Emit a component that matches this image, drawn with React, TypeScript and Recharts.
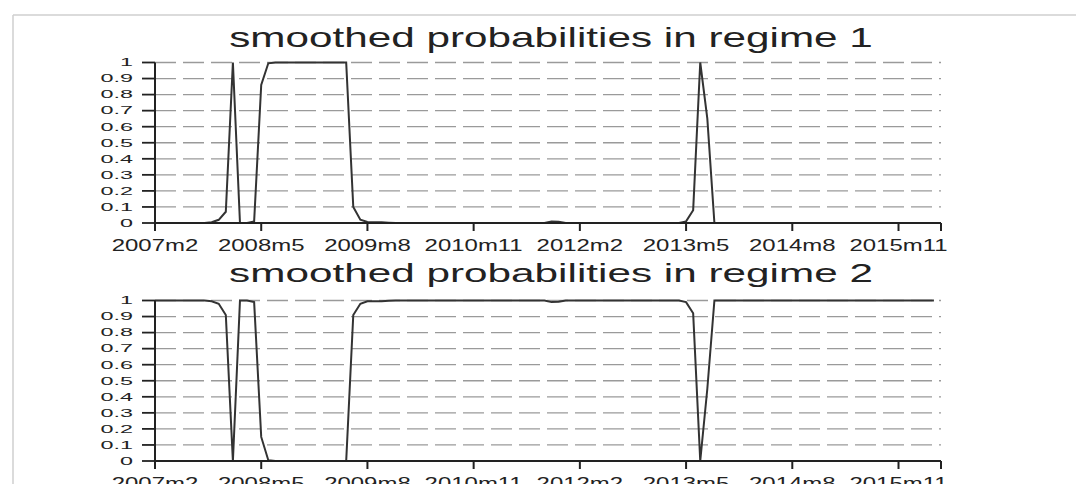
import { CartesianGrid, Line, LineChart, XAxis, YAxis } from "recharts";

// monthly index, 0 = 2007m2
const xTicks = [0, 15, 30, 45, 60, 75, 90, 105, 111];
const xTickLabels = ["2007m2", "2008m5", "2009m8", "2010m11", "2012m2", "2013m5", "2014m8", "2015m11", ""];
const yTicks = [0, 0.1, 0.2, 0.3, 0.4, 0.5, 0.6, 0.7, 0.8, 0.9, 1];
const yTickLabels = ["0", "0.1", "0.2", "0.3", "0.4", "0.5", "0.6", "0.7", "0.8", "0.9", "1"];

const regime1 = [
    0, 0, 0, 0, 0, 0, 0, 0, 0.005, 0.02, 0.07, 1, 0, 0, 0.01,
    0.86, 0.995, 1, 1, 1, 1, 1, 1, 1, 1, 1, 1, 1, 0.1, 0.02,
    0.006, 0.005, 0.004, 0.002, 0, 0, 0, 0, 0, 0, 0, 0, 0, 0, 0,
    0, 0, 0, 0, 0, 0, 0, 0, 0, 0, 0, 0.01, 0.008, 0, 0,
    0, 0, 0, 0, 0, 0, 0, 0, 0, 0, 0, 0, 0, 0, 0,
    0.01, 0.08, 1, 0.65, 0, 0, 0, 0, 0, 0, 0, 0, 0, 0, 0,
    0, 0, 0, 0, 0, 0, 0, 0, 0, 0, 0, 0, 0, 0, 0,
    0, 0, 0, 0, 0, 0,
];

const regime2 = [
    1, 1, 1, 1, 1, 1, 1, 1, 0.995, 0.98, 0.91, 0, 1, 1, 0.99,
    0.15, 0.005, 0, 0, 0, 0, 0, 0, 0, 0, 0, 0, 0, 0.91, 0.98,
    0.995, 0.995, 0.996, 0.998, 1, 1, 1, 1, 1, 1, 1, 1, 1, 1, 1,
    1, 1, 1, 1, 1, 1, 1, 1, 1, 1, 1, 0.99, 0.992, 1, 1,
    1, 1, 1, 1, 1, 1, 1, 1, 1, 1, 1, 1, 1, 1, 1,
    0.99, 0.92, 0, 0.45, 1, 1, 1, 1, 1, 1, 1, 1, 1, 1, 1,
    1, 1, 1, 1, 1, 1, 1, 1, 1, 1, 1, 1, 1, 1, 1,
    1, 1, 1, 1, 1, 1,
];

const FONT = "'Liberation Sans', Arial, sans-serif";
const INK = "#222";

const XTick = (props: any) => {
    const { x, y, payload } = props;
    const label = xTickLabels[xTicks.indexOf(payload.value)] ?? "";
    return (
        <g transform={`translate(${x},${y + 19.5}) scale(1.47,1)`}>
            <text x={0} y={0} textAnchor="middle" fontSize={16.3} fontFamily={FONT} fill={INK}>
                {label}
            </text>
        </g>
    );
};

const YTick = (props: any) => {
    const { x, y, payload } = props;
    const idx = yTicks.findIndex((t) => Math.abs(t - payload.value) < 1e-6);
    return (
        <g transform={`translate(${x - 9},${y + 3.8}) scale(1.46,0.65)`}>
            <text x={0} y={0} textAnchor="end" fontSize={16} fontFamily={FONT} fill={INK}>
                {yTickLabels[idx]}
            </text>
        </g>
    );
};

const Panel = ({ values, top }: { values: number[]; top: number }) => {
    const data = values.map((p, m) => ({ m, p }));
    return (
        <div style={{ position: "absolute", left: 0, top: top, width: 1076, height: 262 }}>
            <LineChart width={1076} height={262} data={data} margin={{ top: 62.5, right: 135, left: 75, bottom: 9 }}>
                <CartesianGrid vertical={false} stroke="#9a9a9a" strokeWidth={1.3} strokeDasharray="21 7" />
                <XAxis
                    dataKey="m"
                    type="number"
                    domain={[0, 111]}
                    ticks={xTicks}
                    interval={0}
                    height={30}
                    tickSize={8}
                    tickMargin={0}
                    axisLine={{ stroke: INK, strokeWidth: 2 }}
                    tickLine={{ stroke: INK, strokeWidth: 2 }}
                    tick={<XTick />}
                />
                <YAxis
                    type="number"
                    domain={[0, 1]}
                    ticks={yTicks}
                    interval={0}
                    width={80}
                    tickSize={13}
                    tickMargin={0}
                    axisLine={{ stroke: INK, strokeWidth: 2 }}
                    tickLine={{ stroke: INK, strokeWidth: 1.8 }}
                    tick={<YTick />}
                />
                <Line
                    type="linear"
                    dataKey="p"
                    stroke="#333"
                    strokeWidth={2}
                    dot={false}
                    isAnimationActive={false}
                />
            </LineChart>
        </div>
    );
};

export default function App() {
    return (
        <div style={{ position: "fixed", left: 0, top: 0, width: 1076, height: 484, overflow: "hidden", background: "#fff" }}>
            <Panel values={regime1} top={0} />
            <Panel values={regime2} top={237.5} />
            <svg width={1076} height={484} style={{ position: "absolute", left: 0, top: 0, pointerEvents: "none" }}>
                <line x1={13} y1={15} x2={1076} y2={15} stroke="#cfcfcf" strokeWidth={1.5} />
                <line x1={13} y1={15} x2={13} y2={484} stroke="#cfcfcf" strokeWidth={1.5} />
                <g transform="translate(551,46.7) scale(1.51,1)">
                    <text x={0} y={0} textAnchor="middle" fontSize={28} fontFamily={FONT} fill={INK}>
                        smoothed probabilities in regime 1
                    </text>
                </g>
                <g transform="translate(551,282.3) scale(1.51,0.95)">
                    <text x={0} y={0} textAnchor="middle" fontSize={28} fontFamily={FONT} fill={INK}>
                        smoothed probabilities in regime 2
                    </text>
                </g>
            </svg>
        </div>
    );
}
